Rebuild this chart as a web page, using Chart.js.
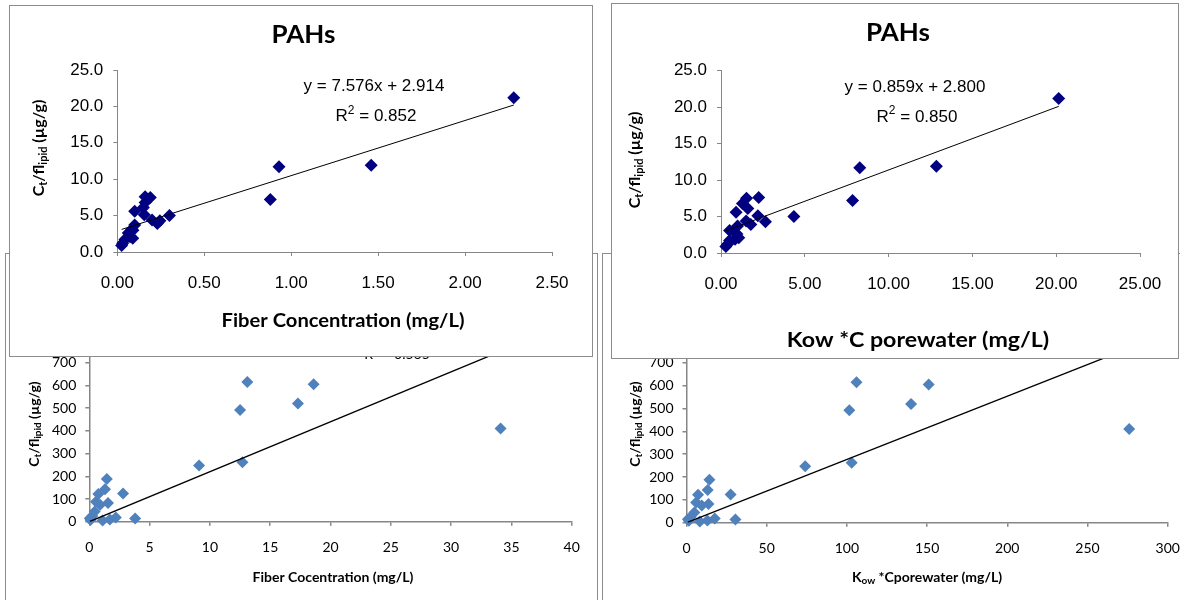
<!DOCTYPE html>
<html>
<head>
<meta charset="utf-8">
<title>PAHs – Ct/flipid vs fiber and Kow*C porewater</title>
<script src="https://cdn.jsdelivr.net/npm/chart.js@4.4.1/dist/chart.umd.min.js"></script>
<style>
  html, body { margin: 0; padding: 0; background: #fff; }
  body { width: 1180px; height: 600px; overflow: hidden; position: relative; }
  .box { position: absolute; background: #fff; border: 1px solid #8c8c8c; }
  .box canvas { position: absolute; left: 0; top: 0; }
  #bl { left: 5px;   top: 253px; width: 591px; height: 360px; }
  #br { left: 602px; top: 253px; width: 600px; height: 360px; }
  #tl { left: 9px;   top: 5px;   width: 582px; height: 350px; }
  #tr { left: 611px; top: 3px;   width: 566px; height: 354px; }
</style>
</head>
<body>
<div class="box" id="bl"><canvas id="cBL" width="591" height="346"></canvas></div>
<div class="box" id="br"><canvas id="cBR" width="577" height="346"></canvas></div>
<div class="box" id="tl"><canvas id="cTL" width="582" height="350"></canvas></div>
<div class="box" id="tr"><canvas id="cTR" width="566" height="354"></canvas></div>

<script>
// PAHs (upper panels): Ct/flipid against fiber conc. and Kow*C porewater
const pahCtFlipid = [21.2, 11.9, 11.7, 7.2, 7.6, 7.5, 6.8, 6.1, 5.6, 5.1, 5.0, 4.4,
                     4.3, 3.9, 3.7, 3.1, 3.0, 2.6, 2.1, 1.9, 1.7, 1.2, 0.9];
const pahFiber    = [2.28, 1.46, 0.93, 0.88, 0.16, 0.19, 0.16, 0.15, 0.10, 0.155, 0.30, 0.20,
                     0.245, 0.23, 0.10, 0.083, 0.09, 0.063, 0.073, 0.089, 0.044, 0.031, 0.025];
const pahKowC     = [20.15, 12.85, 8.28, 7.85, 2.25, 1.52, 1.28, 1.60, 0.90, 2.20, 4.35, 1.50,
                     2.65, 1.78, 0.99, 0.51, 0.73, 0.95, 1.06, 0.84, 0.51, 0.39, 0.29];
const pahFiberFit = { slope: 7.576, intercept: 2.914, r2: 0.852 };
const pahKowFit   = { slope: 0.859, intercept: 2.800, r2: 0.850 };

// lower panels
const ctFlipid      = [410, 615, 605, 520, 492, 262, 247, 124, 14, 188, 143,
                       122, 82, 88, 75, 45, 25, 15, 5, 10, 18, 8];
const fiberConc     = [34.1, 13.1, 18.6, 17.3, 12.5, 12.7, 9.1, 2.8, 3.8, 1.45, 1.3,
                       0.75, 1.55, 0.55, 0.9, 0.45, 0.25, 0.05, 1.1, 1.7, 2.2, 0.1];
const kowCporewater = [276, 106, 151, 140, 101.5, 103, 74, 27.5, 30.5, 14.3, 13.2,
                       7.2, 13.7, 6.0, 9.5, 4.9, 2.6, 0.9, 8.3, 13.0, 17.6, 1.5];
const fiberFit = { slope: 22.0, intercept: 0, r2: 0.565 };
const kowFit   = { slope: 2.77, intercept: 0 };

// tick labels
const pahYTicks      = [0, 5, 10, 15, 20, 25];
const pahFiberTicks  = [0, 0.5, 1, 1.5, 2, 2.5];
const pahKowTicks    = [0, 5, 10, 15, 20, 25];
const lowYTicks      = [0, 100, 200, 300, 400, 500, 600, 700, 800];
const lowFiberTicks  = [0, 5, 10, 15, 20, 25, 30, 35, 40];
const lowKowTicks    = [0, 50, 100, 150, 200, 250, 300];

const SANS = '"Liberation Sans", Arial, sans-serif';
const LATO = 'Lato, "Open Sans", sans-serif';
const AXIS = '#868686';

const pts = (xs, ys) => xs.map((x, i) => ({ x, y: ys[i] }));
const fitLine = (xs, f) => {
  const lo = Math.min(...xs), hi = Math.max(...xs);
  return [lo, hi].map(x => ({ x, y: f.slope * x + f.intercept }));
};

// text with sub/superscript runs, centred on (x, y)
function drawRich(ctx, t) {
  ctx.save();
  ctx.translate(t.x, t.y);
  if (t.rotate) ctx.rotate(t.rotate);
  if (t.stretch) ctx.scale(t.stretch, 1);
  const font = k => `${t.weight || 'normal'} ${k ? Math.round(t.size * 0.68) : t.size}px ${t.family}`;
  let total = 0;
  const widths = t.parts.map(([s, k]) => {
    ctx.font = font(k);
    const w = ctx.measureText(s).width;
    total += w;
    return w;
  });
  let cx = -total / 2;
  ctx.textAlign = 'left';
  ctx.textBaseline = 'middle';
  ctx.fillStyle = t.color || '#000';
  t.parts.forEach(([s, k], i) => {
    ctx.font = font(k);
    const dy = k === 'sub' ? t.size * 0.28 : k === 'sup' ? -t.size * 0.38 : 0;
    ctx.fillText(s, cx, dy);
    cx += widths[i];
  });
  ctx.restore();
}
const textLayer = items => ({
  id: 'textLayer',
  afterDraw(chart) { items.forEach(t => drawRich(chart.ctx, t)); }
});

function axis(ticks, o, size, dec) {
  return {
    type: 'linear',
    min: ticks[0],
    max: ticks[ticks.length - 1],
    afterBuildTicks: s => { s.ticks = ticks.map(v => ({ value: v })); },
    afterFit: s => {
      if (s.isHorizontal()) {
        s.height = size;
        // end labels may hang past the plot edge
        s.paddingLeft = 0;
        s.paddingRight = 0;
      } else {
        s.width = size;
      }
    },
    grid: { drawOnChartArea: false, tickLength: 4, color: AXIS, lineWidth: o.axisW },
    border: { color: AXIS, width: o.axisW },
    ticks: { padding: 0, color: '#000', font: o.tickFont, callback: v => v.toFixed(dec) }
  };
}

function scatterPanel(id, o) {
  const x = axis(o.xTicks, o, o.xh, o.xDec);
  x.ticks.padding = o.xPad;
  const y = axis(o.yTicks, o, o.yw, o.yDec);
  y.ticks.padding = o.yPad;
  return new Chart(document.getElementById(id), {
    type: 'scatter',
    data: {
      datasets: [
        { type: 'line', data: o.fit, borderColor: '#000', borderWidth: o.fitW,
          pointRadius: 0, fill: false, tension: 0 },
        { data: o.points, pointStyle: 'rectRot', pointRadius: o.r,
          backgroundColor: o.color, borderColor: o.color, borderWidth: 0, clip: false }
      ]
    },
    options: {
      responsive: false,
      animation: false,
      events: [],
      layout: { padding: { left: 0, right: o.padRight, top: o.padTop, bottom: 0 } },
      plugins: { legend: { display: false }, tooltip: { enabled: false } },
      scales: { x, y }
    },
    plugins: [textLayer(o.texts)]
  });
}

const yTitle = (x, y, size) => ({
  x, y, size, rotate: -Math.PI / 2, weight: 'bold', family: LATO,
  parts: [['C'], ['t', 'sub'], ['/fl'], ['ipid', 'sub'], [' (µg/g)']]
});
const eqText = (x, y, f) => ({
  x, y, size: 17, family: SANS,
  parts: [[`y = ${f.slope.toFixed(3)}x + ${f.intercept.toFixed(3)}`]]
});
const r2Text = (x, y, r2, size, family) => ({
  x, y, size, family, parts: [['R'], ['2', 'sup'], [' = ' + r2.toFixed(3)]]
});

const upper = { tickFont: { family: SANS, size: 17 }, axisW: 1, color: '#000080', r: 6.5, fitW: 1,
                yTicks: pahYTicks, yDec: 1, xDec: 2, xPad: 17, yPad: 10 };
const lower = { tickFont: { family: LATO, size: 14 }, axisW: 1.5, color: '#4F81BD', r: 6, fitW: 1.3,
                yTicks: lowYTicks, yDec: 0, xDec: 0, xPad: 13, yPad: 9 };

// lower left: fiber concentration
scatterPanel('cBL', Object.assign({}, lower, {
  points: pts(fiberConc, ctFlipid), fit: fitLine(fiberConc, fiberFit),
  xTicks: lowFiberTicks, yw: 83.3, xh: 78.3, padRight: 25.3, padTop: 86,
  texts: [
    r2Text(391, 100, fiberFit.r2, 14, LATO),
    { x: 327, y: 323, size: 14, weight: 'bold', family: LATO, parts: [['Fiber Cocentration (mg/L)']] },
    yTitle(28, 170, 14)
  ]
}));

// lower right: Kow * C porewater
scatterPanel('cBR', Object.assign({}, lower, {
  points: pts(kowCporewater, ctFlipid), fit: fitLine(kowCporewater, kowFit),
  xTicks: lowKowTicks, yw: 83.5, xh: 77.3, padRight: 12.3, padTop: 86,
  texts: [
    { x: 324, y: 323, size: 14, weight: 'bold', family: LATO,
      parts: [['K'], ['ow', 'sub'], [' *Cporewater (mg/L)']] },
    yTitle(32, 170, 14)
  ]
}));

// upper left: PAHs vs fiber concentration
scatterPanel('cTL', Object.assign({}, upper, {
  points: pts(pahFiber, pahCtFlipid), fit: fitLine(pahFiber, pahFiberFit),
  xTicks: pahFiberTicks, yw: 107.3, xh: 104, padRight: 40, padTop: 64,
  texts: [
    { x: 293.5, y: 29, size: 25, weight: 'bold', family: LATO, stretch: 1.04, parts: [['PAHs']] },
    eqText(364, 80.7, pahFiberFit),
    r2Text(366, 110.7, pahFiberFit.r2, 17, SANS),
    { x: 333, y: 315, size: 18, weight: 'bold', family: LATO, stretch: 1.12,
      parts: [['Fiber Concentration (mg/L)']] },
    yTitle(29, 142, 16)
  ]
}));

// upper right: PAHs vs Kow*C porewater
scatterPanel('cTR', Object.assign({}, upper, {
  points: pts(pahKowC, pahCtFlipid), fit: fitLine(pahKowC, pahKowFit),
  xTicks: pahKowTicks, yw: 109, xh: 105, padRight: 38, padTop: 66.7,
  texts: [
    { x: 286, y: 29.3, size: 25, weight: 'bold', family: LATO, stretch: 1.04, parts: [['PAHs']] },
    eqText(303, 83, pahKowFit),
    r2Text(305, 113, pahKowFit.r2, 17, SANS),
    { x: 306, y: 336, size: 20.5, weight: 'bold', family: LATO, stretch: 1.13,
      parts: [['Kow *C porewater (mg/L)']] },
    yTitle(23, 156, 16)
  ]
}));
</script>
</body>
</html>
